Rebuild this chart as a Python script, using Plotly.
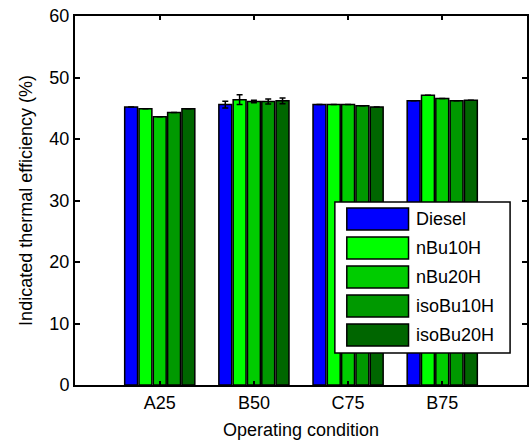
import plotly.graph_objects as go

conditions = ["A25", "B50", "C75", "B75"]
series_names = ["Diesel", "nBu10H", "nBu20H", "isoBu10H", "isoBu20H"]
series_colors = ["#0000FF", "#00FF00", "#00CC00", "#009900", "#006600"]

diesel = [45.2, 45.6, 45.6, 46.2]
nbu10h = [44.9, 46.4, 45.6, 47.1]
nbu20h = [43.6, 46.1, 45.6, 46.6]
isobu10h = [44.3, 46.1, 45.4, 46.2]
isobu20h = [44.9, 46.2, 45.2, 46.3]
values = [diesel, nbu10h, nbu20h, isobu10h, isobu20h]

# error bars (only B50 has them)
err_diesel = [None, 0.55, None, None]
err_nbu10h = [None, 0.8, None, None]
err_nbu20h = [None, 0.2, None, None]
err_isobu10h = [None, 0.4, None, None]
err_isobu20h = [None, 0.45, None, None]
errors = [err_diesel, err_nbu10h, err_nbu20h, err_isobu10h, err_isobu20h]

FONT = "Liberation Sans, Arial, sans-serif"
W, H = 529, 444
ML, MT, MB, MR = 75, 16, 59, 0

fig = go.Figure()
for name, color, vals, err in zip(series_names, series_colors, values, errors):
    fig.add_trace(go.Bar(
        x=conditions, y=vals, name=name,
        marker=dict(color=color, line=dict(color="black", width=1.5)),
        error_y=dict(type="data", array=err, visible=True, color="black",
                     thickness=1.5, width=3),
        showlegend=False,
    ))

# custom legend (MATLAB-style large swatches)
pw = W - ML - MR
ph = H - MT - MB
def px(x):
    return (x - ML) / pw
def py(y):
    return (H - MB - y) / ph

fig.add_shape(type="rect", xref="paper", yref="paper",
              x0=px(336), x1=px(512), y0=py(202), y1=py(353),
              fillcolor="white", line=dict(color="black", width=1.5), layer="above")
for i, (name, color) in enumerate(zip(series_names, series_colors)):
    cy = 219 + i * 29
    fig.add_shape(type="rect", xref="paper", yref="paper",
                  x0=px(348), x1=px(410), y0=py(cy - 11), y1=py(cy + 11),
                  fillcolor=color, line=dict(color="black", width=1.5), layer="above")
    fig.add_annotation(xref="paper", yref="paper", x=px(416), y=py(cy),
                       text=name, showarrow=False, xanchor="left", yanchor="middle",
                       font=dict(family=FONT, size=18, color="black"))

fig.update_layout(
    width=W, height=H,
    margin=dict(l=ML, r=MR, t=MT, b=MB),
    paper_bgcolor="white", plot_bgcolor="white",
    barmode="group", bargap=0.24, bargroupgap=0.1,
    font=dict(family=FONT, size=18, color="black"),
)
fig.update_xaxes(
    range=[-0.9, 3.9], showline=True, linecolor="black", linewidth=2,
    mirror="ticks", ticks="inside", ticklen=4, tickcolor="black", tickwidth=1.5,
    showgrid=False, zeroline=False,
    title=dict(text="Operating condition", font=dict(size=18), standoff=12),
    tickfont=dict(size=18),
)
fig.update_yaxes(
    range=[0, 60], dtick=10, showline=True, linecolor="black", linewidth=2,
    mirror="ticks", ticks="inside", ticklen=5, tickcolor="black", tickwidth=1.5,
    showgrid=False, zeroline=False,
    title=dict(text="Indicated thermal efficiency (%)", font=dict(size=18), standoff=12),
    tickfont=dict(size=18),
)

fig.write_html("out.html")
